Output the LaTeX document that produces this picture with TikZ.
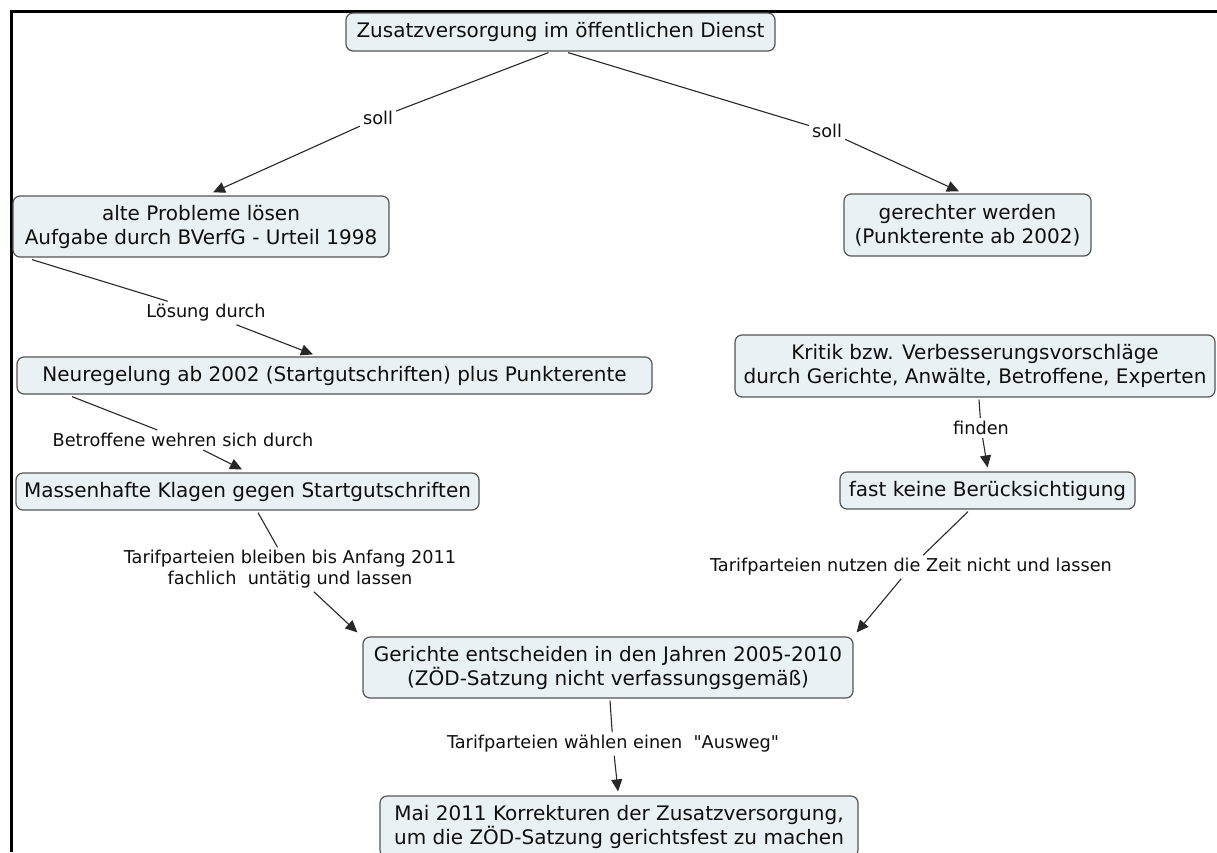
\documentclass[tikz,border=0pt]{standalone}
\usepackage{fontspec}
\newfontfamily\dv{DejaVu Sans}
\usetikzlibrary{arrows.meta}
\definecolor{boxfill}{RGB}{233,241,244}
\definecolor{boxdraw}{RGB}{85,85,85}
\definecolor{linecol}{RGB}{40,40,40}
\definecolor{txt}{RGB}{15,15,15}
\begin{document}
\begin{tikzpicture}[x=1pt,y=-1pt,
  concept/.style={draw=boxdraw, line width=1.2pt, fill=boxfill, rounded corners=7pt,
    align=center, font=\dv\fontsize{20}{24}\selectfont, inner xsep=4pt, inner ysep=2pt, text=txt},
  lbl/.style={font=\dv\fontsize{17.7}{21}\selectfont, align=center, inner sep=3pt, text=txt},
  conn/.style={draw=linecol, line width=1.1pt},
  arr/.style={conn, -{Triangle[length=12pt,width=11pt]}}]
\useasboundingbox (0,0) rectangle (1217,852);
\fill[white] (0,0) rectangle (1217,852);
% frame
\draw[line width=2.7pt, line join=miter] (11.3,852) -- (11.3,11.3) -- (1217,11.3);
% concepts
\node[concept, minimum width=429pt, minimum height=38pt] (top) at (560.5,32) {Zusatzversorgung im öffentlichen Dienst};
\node[concept, minimum width=376pt, minimum height=61pt] (alt) at (201,226.5) {alte Probleme lösen\\Aufgabe durch BVerfG - Urteil 1998};
\node[concept, minimum width=247pt, minimum height=62pt] (ger) at (967.5,225) {gerechter werden\\(Punkterente ab 2002)};
\node[concept, minimum width=635pt, minimum height=37pt] (neu) at (334.5,375.5) {Neuregelung ab 2002 (Startgutschriften) plus Punkterente};
\node[concept, minimum width=463pt, minimum height=37pt] (mas) at (247.5,491.5) {Massenhafte Klagen gegen Startgutschriften};
\node[concept, minimum width=480pt, minimum height=62pt] (kri) at (975,366) {Kritik bzw. Verbesserungsvorschläge\\durch Gerichte, Anwälte, Betroffene, Experten};
\node[concept, minimum width=295pt, minimum height=37pt] (fast) at (987.5,490.5) {fast keine Berücksichtigung};
\node[concept, minimum width=490pt, minimum height=61pt] (geri) at (608,667.5) {Gerichte entscheiden in den Jahren 2005-2010\\(ZÖD-Satzung nicht verfassungsgemäß)};
\node[concept, minimum width=478pt, minimum height=61pt] (mai) at (619,826.5) {Mai 2011 Korrekturen der Zusatzversorgung,\\ um die ZÖD-Satzung gerichtsfest zu machen};
% labels
\node[lbl] (s1) at (378,118) {soll};
\node[lbl] (s2) at (827,131) {soll};
\node[lbl] (loes) at (206,313) {Lösung durch};
\node[lbl] (betr) at (183,440) {Betroffene wehren sich durch};
\node[lbl] (t1) at (290,569.5) {Tarifparteien bleiben bis Anfang 2011\\fachlich\ \ untätig und lassen};
\node[lbl] (fin) at (981,428) {finden};
\node[lbl] (t2) at (911,567) {Tarifparteien nutzen die Zeit nicht und lassen};
\node[lbl] (aus) at (613,744) {Tarifparteien wählen einen\ \ "Ausweg"};
% connectors
\draw[conn] ([xshift=-12pt,yshift=-1pt]top.south) -- (s1);
\draw[arr] (s1) -- ([xshift=12pt,yshift=3pt]alt.north);
\draw[conn] ([xshift=7.5pt,yshift=-1pt]top.south) -- (s2);
\draw[arr] (s2) -- ([xshift=-8.5pt,yshift=2pt]ger.north);
\draw[conn] ([xshift=-169pt,yshift=-2pt]alt.south) -- (loes);
\draw[arr] (loes) -- ([xshift=-21.5pt,yshift=2pt]neu.north);
\draw[conn] ([xshift=-262.5pt,yshift=-2pt]neu.south) -- (betr);
\draw[arr] (betr) -- ([xshift=-5.5pt,yshift=3pt]mas.north);
\draw[conn] ([xshift=10.5pt,yshift=-2pt]mas.south) -- (t1);
\draw[arr] (t1) -- ([xshift=-5pt,yshift=4pt]geri.north west);
\draw[conn] ([xshift=4pt,yshift=-2pt]kri.south) -- (fin);
\draw[arr] (fin) -- ([yshift=4pt]fast.north);
\draw[conn] ([xshift=-19.5pt,yshift=-2pt]fast.south) -- (t2);
\draw[arr] (t2) -- ([xshift=3pt,yshift=4pt]geri.north east);
\draw[conn] ([xshift=2pt,yshift=-2pt]geri.south) -- (aus);
\draw[arr] (aus) -- ([xshift=-1pt,yshift=4pt]mai.north);
\end{tikzpicture}
\end{document}
